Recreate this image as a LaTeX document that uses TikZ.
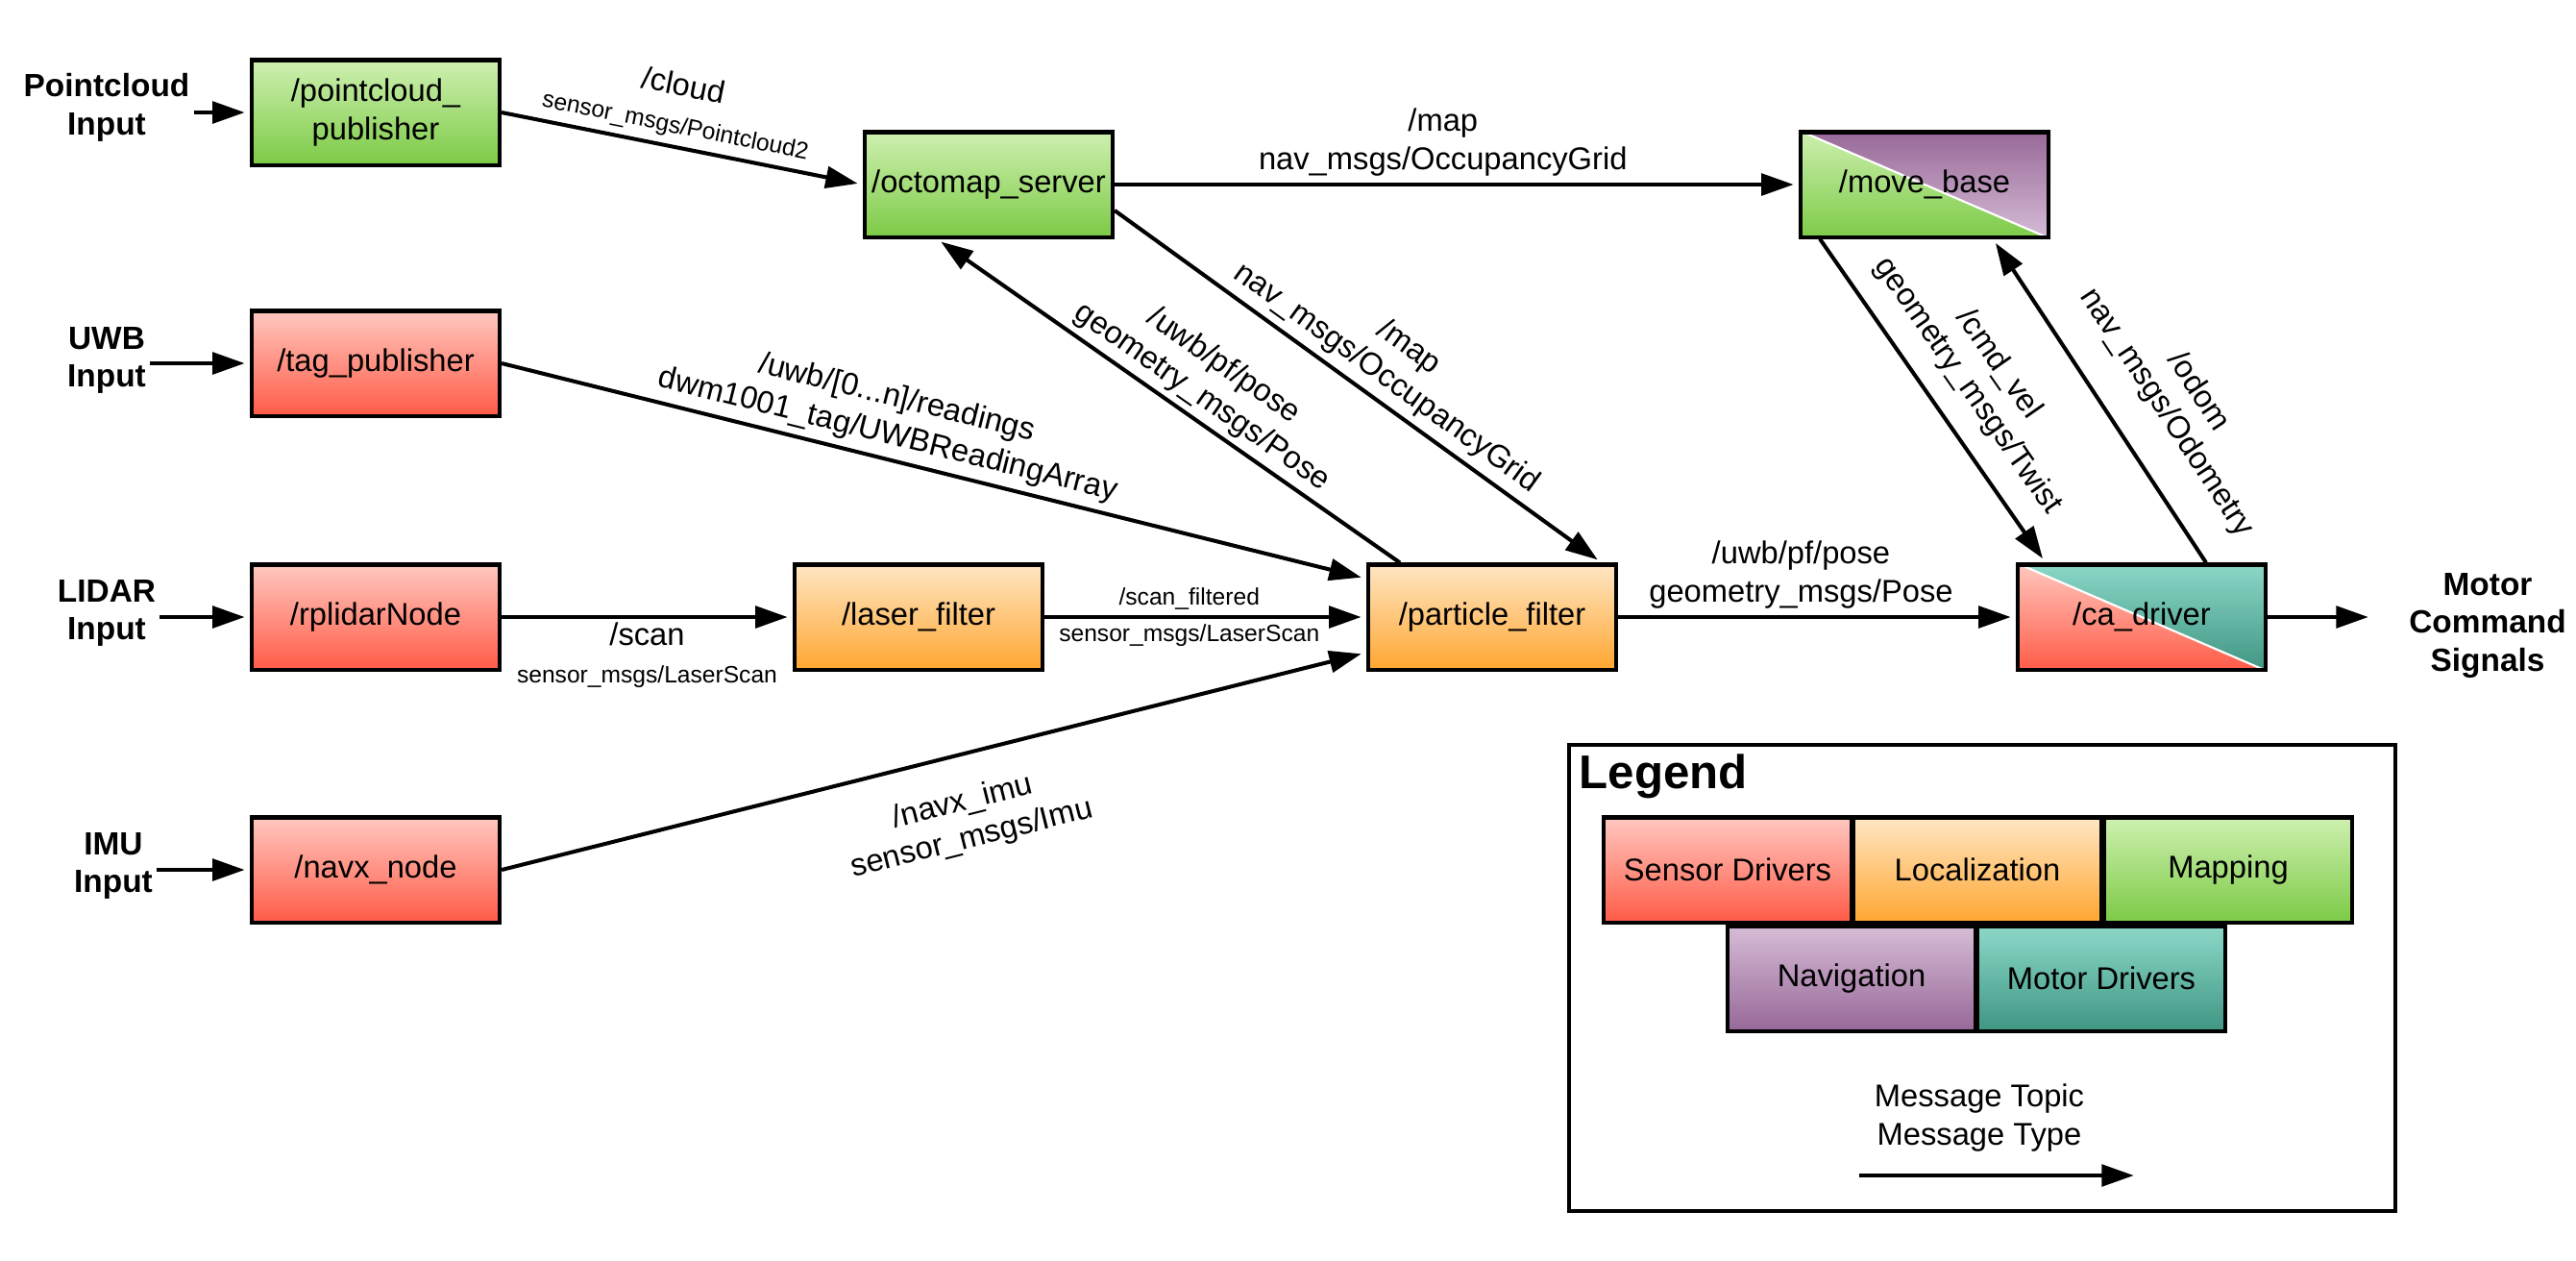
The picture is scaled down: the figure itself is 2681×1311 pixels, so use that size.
\documentclass[tikz,border=0pt]{standalone}
\usepackage{fontspec}
\setmainfont{Liberation Sans}
\usetikzlibrary{arrows.meta,calc,backgrounds}
\definecolor{redT}{HTML}{FFC8C0}
\definecolor{redB}{HTML}{FF5A46}
\definecolor{orT}{HTML}{FFE6C4}
\definecolor{orB}{HTML}{FFA630}
\definecolor{grT}{HTML}{CEF0B0}
\definecolor{grB}{HTML}{7CCA46}
\definecolor{puT}{HTML}{D6BCD6}
\definecolor{puB}{HTML}{976898}
\definecolor{teT}{HTML}{8CD8C8}
\definecolor{teB}{HTML}{3F9682}
\newcommand{\normfnt}{\fontsize{9.3}{11.2}\selectfont}
\newcommand{\smallfnt}{\fontsize{7}{8.4}\selectfont}
\newcommand{\boldfnt}{\bfseries\fontsize{9.5}{11.3}\selectfont}
\begin{document}
\begin{tikzpicture}[x=0.01cm,y=-0.01cm,
  box/.style={draw, line width=1.15pt, minimum width=2.58cm, minimum height=1.09cm, inner sep=2pt, align=center, font=\normfnt},
  redbox/.style={box, top color=redT, bottom color=redB},
  orbox/.style={box, top color=orT, bottom color=orB},
  grbox/.style={box, top color=grT, bottom color=grB},
  pubox/.style={box, top color=puT, bottom color=puB},
  tebox/.style={box, top color=teT, bottom color=teB},
  arr/.style={line width=1.15pt, shorten >=1.5pt, -{Triangle[length=9.5pt,width=6.4pt]}},
  lbl/.style={font=\normfnt, align=center, inner sep=2pt},
  inlbl/.style={font=\boldfnt, align=center, inner sep=1pt}]
\useasboundingbox (0,0) rectangle (2681,1311);

% nodes
\node[grbox] (pc) at (391,117) {/pointcloud\_\\publisher};
\node[grbox] (oct) at (1029,192) {/octomap\_server};
\node[box] (mb) at (2003,192) {/move\_base};
\node[redbox] (tag) at (391,378) {/tag\_publisher};
\node[redbox] (rp) at (391,642) {/rplidarNode};
\node[orbox] (lf) at (956,642) {/laser\_filter};
\node[orbox] (pf) at (1553,642) {/particle\_filter};
\node[box] (ca) at (2229,642) {/ca\_driver};
\node[redbox] (navx) at (391,905) {/navx\_node};

\begin{scope}[on background layer]
  \fill[white] (0,0) rectangle (2681,1311);
  \shade[top color=grT,bottom color=grB] (mb.north west) -- (mb.south west) -- (mb.south east) -- cycle;
  \shade[top color=puB,bottom color=puT] (mb.north west) -- (mb.north east) -- (mb.south east) -- cycle;
  \draw[white, line width=0.6pt] (mb.north west) -- (mb.south east);
  \shade[top color=redT,bottom color=redB] (ca.north west) -- (ca.south west) -- (ca.south east) -- cycle;
  \shade[top color=teT,bottom color=teB] (ca.north west) -- (ca.north east) -- (ca.south east) -- cycle;
  \draw[white, line width=0.6pt] (ca.north west) -- (ca.south east);
\end{scope}

% input labels
\node[inlbl] (inPC) at (111,112) {Pointcloud\\Input};
\node[inlbl] (inUWB) at (111,375) {UWB\\Input};
\node[inlbl] (inLID) at (111,638) {LIDAR\\Input};
\node[inlbl] (inIMU) at (118,901) {IMU\\Input};
\node[inlbl] (motor) at (2589,651) {Motor\\Command\\Signals};

\draw[arr] (inPC.east |- pc.west) -- (pc.west);
\draw[arr] (inUWB.east |- tag.west) -- (tag.west);
\draw[arr] (inLID.east |- rp.west) -- (rp.west);
\draw[arr] (inIMU.east |- navx.west) -- (navx.west);
\draw[arr] (ca.east) -- ($(motor.west |- ca.east)+(-33,0)$);

% edges
\draw[arr] (pc.east) -- (oct.west)
  node[lbl, pos=0.47, sloped, above] {/cloud\\{\smallfnt sensor\_msgs/Pointcloud2}};
\draw[arr] (oct.east) -- (mb.west)
  node[lbl, pos=0.48, above] {/map\\nav\_msgs/OccupancyGrid};
\draw[arr] ($(oct.east)+(0,27)$) -- ($(pf.north)+(114,0)$)
  node[lbl, pos=0.53, sloped, above] {/map\\nav\_msgs/OccupancyGrid};
\coordinate (pfA) at ($(pf.north)+(-96,0)$);
\coordinate (octB) at ($(oct.south)+(-54,0)$);
\draw[arr] (pfA) -- (octB);
\path (octB) -- (pfA) node[lbl, pos=0.545, sloped, above] {/uwb/pf/pose\\geometry\_msgs/Pose};
\draw[arr] (tag.east) -- ($(pf.west)+(0,-40)$)
  node[lbl, pos=0.44, sloped, above] {/uwb/[0...n]/readings\\dwm1001\_tag/UWBReadingArray};
\draw[arr] (rp.east) -- (lf.west)
  node[lbl, midway, below, inner sep=1pt] {/scan\\{\smallfnt sensor\_msgs/LaserScan}};
\draw[arr] (lf.east) -- (pf.west)
  node[lbl, font=\smallfnt, pos=0.45, above, inner sep=1.5pt] {/scan\_filtered}
  node[lbl, font=\smallfnt, pos=0.45, below, inner sep=1.5pt] {sensor\_msgs/LaserScan};
\draw[arr] (navx.east) -- ($(pf.west)+(0,37)$)
  node[lbl, pos=0.52, sloped, below=7pt] {/navx\_imu\\sensor\_msgs/Imu};
\draw[arr] (pf.east) -- (ca.west)
  node[lbl, pos=0.46, above] {/uwb/pf/pose\\geometry\_msgs/Pose};
\coordinate (mbA) at ($(mb.south)+(-109,0)$);
\coordinate (caB) at ($(ca.north)+(-100,0)$);
\draw[arr] (mbA) -- (caB)
  node[lbl, pos=0.52, sloped, above=4pt] {/cmd\_vel\\geometry\_msgs/Twist};
\coordinate (caA) at ($(ca.north)+(67,0)$);
\coordinate (mbB) at ($(mb.south)+(71,0)$);
\draw[arr] (caA) -- (mbB);
\path (mbB) -- (caA) node[lbl, pos=0.62, sloped, above=8pt] {/odom\\nav\_msgs/Odometry};

% legend
\node[draw, line width=1.15pt, minimum width=8.6cm, minimum height=4.85cm, inner sep=0] (legend) at (2063,1017.5) {};
\node[font=\bfseries\fontsize{14}{16}\selectfont, anchor=west, inner sep=0] (legtitle) at (1643,808) {Legend};
\node[redbox] (lgS) at (1798,905) {Sensor Drivers};
\node[orbox] (lgL) at (2058,905) {Localization};
\node[grbox] (lgM) at (2319,905) {Mapping};
\node[pubox] (lgN) at (1927,1018) {Navigation};
\node[tebox] (lgT) at (2187,1018) {Motor Drivers};
\node[lbl] (lgtext) at (2060,1163) {Message Topic\\Message Type};
\coordinate (lgA) at (1935,1223);
\coordinate (lgB) at (2226,1223);
\draw[arr] (lgA) -- (lgB);
\end{tikzpicture}
\end{document}
